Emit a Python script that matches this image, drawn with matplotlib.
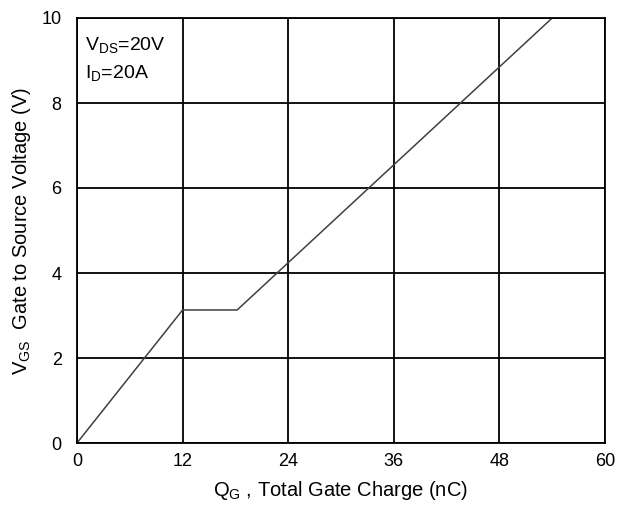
import numpy as np
import matplotlib
matplotlib.use("Agg")
import matplotlib.pyplot as plt

plt.rcParams['font.family'] = ['Liberation Sans', 'DejaVu Sans']
plt.rcParams['mathtext.fontset'] = 'custom'
plt.rcParams['mathtext.rm'] = 'Liberation Sans'
plt.rcParams['mathtext.it'] = 'Liberation Sans'

# gate charge curve
qg = [0, 12, 18.2, 54]
vgs = [0, 3.13, 3.13, 10]

xticks = [0, 12, 24, 36, 48, 60]
yticks = [0, 2, 4, 6, 8, 10]

fig = plt.figure(figsize=(6.34, 5.11), dpi=100)
ax = fig.add_axes([77/634, 68/511, 528/634, 425/511])

ax.plot(qg, vgs, color='#404040', lw=1.1)

ax.set_xlim(0, 60)
ax.set_ylim(0, 10)
ax.set_xticks(xticks)
ax.set_yticks(yticks)
ax.grid(True, color='black', lw=1.3)
for s in ax.spines.values():
    s.set_linewidth(1.3)
ax.tick_params(length=0, labelsize=13)
ax.tick_params(axis='y', pad=11)
ax.tick_params(axis='x', pad=7)

ax.set_xlabel(r'$\mathregular{Q_G}$ , Total Gate Charge (nC)', fontsize=14.5, labelpad=7)
ax.set_ylabel(r'$\mathregular{V_{GS}}$  Gate to Source Voltage (V)', fontsize=14.5, labelpad=6)

ax.text(0.9, 9.6, r'$\mathregular{V_{DS}}$=20V', fontsize=14, va='top', ha='left')
ax.text(0.9, 8.95, r'$\mathregular{I_D}$=20A', fontsize=14, va='top', ha='left')

fig.savefig('out.png', dpi=100)
